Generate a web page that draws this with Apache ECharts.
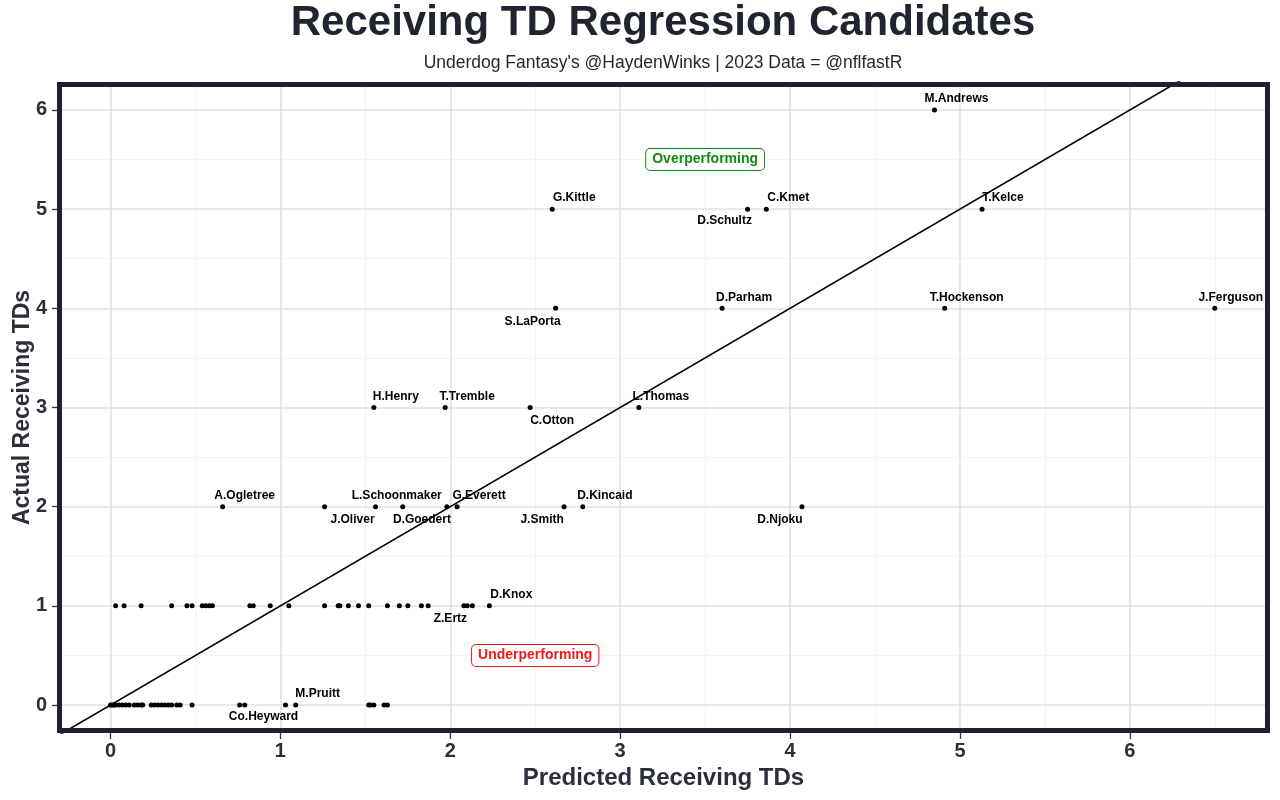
<!DOCTYPE html>
<html>
<head>
<meta charset="utf-8">
<script src="https://cdn.jsdelivr.net/npm/echarts@6/dist/echarts.min.js"></script>
<style>html,body{margin:0;padding:0;background:#fff}#c{width:1280px;height:800px}</style>
</head>
<body>
<div id="c"></div>
<script>
// ---- data ----
const namedPlayers = ['M.Andrews','G.Kittle','D.Schultz','C.Kmet','T.Kelce','S.LaPorta','D.Parham','T.Hockenson','J.Ferguson','H.Henry','T.Tremble','C.Otton','L.Thomas','A.Ogletree','J.Oliver','L.Schoonmaker','D.Goedert','G.Everett','J.Smith','D.Kincaid','D.Njoku','D.Knox','Z.Ertz','M.Pruitt','Co.Heyward'];
const namedPredicted = [4.85,2.60,3.75,3.86,5.13,2.62,3.60,4.91,6.50,1.55,1.97,2.47,3.11,0.66,1.56,1.72,1.98,2.04,2.67,2.78,4.07,2.23,2.13,1.09,1.03];
const namedActual    = [6,5,5,5,5,4,4,4,4,3,3,3,3,2,2,2,2,2,2,2,2,1,1,0,0];

const otherPredictedActual2 = [1.26];
const otherPredictedActual1 = [0.03,0.08,0.18,0.36,0.45,0.48,0.54,0.56,0.58,0.60,0.82,0.84,0.94,1.05,1.26,1.34,1.35,1.40,1.46,1.52,1.63,1.70,1.75,1.83,1.87,2.08,2.10];
const otherPredictedActual0 = [0.00,0.01,0.02,0.03,0.05,0.07,0.09,0.11,0.14,0.16,0.18,0.19,0.24,0.26,0.28,0.30,0.32,0.34,0.36,0.39,0.41,0.48,0.76,0.79,1.52,1.53,1.55,1.61,1.63];

const xTicks = [0,1,2,3,4,5,6];
const yTicks = [0,1,2,3,4,5,6];
const xMinorGrid = [0.5,1.5,2.5,3.5,4.5,5.5,6.5];
const yMinorGrid = [0.5,1.5,2.5,3.5,4.5,5.5];
const xRange = [-0.315, 6.825];
const yRange = [-0.282, 6.282];

const titleText = 'Receiving TD Regression Candidates';
const subtitleText = "Underdog Fantasy's @HaydenWinks | 2023 Data = @nflfastR";

const annotations = [
  {text:'Overperforming', x:3.5, y:5.5, color:'#108a10'},
  {text:'Underperforming', x:2.5, y:0.5, color:'#f01818'}
];

// ---- label placement (styling, pixel offsets from the point) ----
const labelOffsets = {
  'M.Andrews':[22,-11],'G.Kittle':[22,-11],'D.Schultz':[-23,12],'C.Kmet':[22,-11],'T.Kelce':[21,-11],
  'S.LaPorta':[-23,13],'D.Parham':[22,-11],'T.Hockenson':[22,-11],'J.Ferguson':[16,-11],
  'H.Henry':[22,-11],'T.Tremble':[22,-11],'C.Otton':[22,13],'L.Thomas':[22,-11],
  'A.Ogletree':[22,-11],'J.Oliver':[-23,13],'L.Schoonmaker':[-6,-11],'D.Goedert':[-25,13],
  'G.Everett':[22,-11],'J.Smith':[-22,13],'D.Kincaid':[22,-11],'D.Njoku':[-22,13],
  'D.Knox':[22,-11],'Z.Ertz':[-22,13],'M.Pruitt':[22,-11],'Co.Heyward':[-22,12]
};

const FONT = '"Liberation Sans", Arial, Helvetica, sans-serif';
const DARK = '#1f2430';
const SYM = 5;

const namedData = namedPlayers.map((n,i)=>{
  const o = labelOffsets[n] || [0,-12];
  return {
    value:[namedPredicted[i], namedActual[i]],
    name:n,
    label:{show:true, formatter:n, position:[SYM/2 + o[0], SYM/2 + o[1]], align:'center', verticalAlign:'middle',
           color:'#000', fontSize:12, fontWeight:'bold', fontFamily:FONT}
  };
});
const otherData = []
  .concat(otherPredictedActual0.map(x=>[x,0]))
  .concat(otherPredictedActual1.map(x=>[x,1]))
  .concat(otherPredictedActual2.map(x=>[x,2]));

const gridLines = []
  .concat(xMinorGrid.map(v=>({xAxis:v, lineStyle:{color:'#f1f1f1', width:0.8, type:'solid'}})))
  .concat(yMinorGrid.map(v=>({yAxis:v, lineStyle:{color:'#f1f1f1', width:0.8, type:'solid'}})))
  .concat(xTicks.map(v=>({xAxis:v, lineStyle:{color:'#e2e2e2', width:1.6, type:'solid'}})))
  .concat(yTicks.map(v=>({yAxis:v, lineStyle:{color:'#e2e2e2', width:1.6, type:'solid'}})));

const chart = echarts.init(document.getElementById('c'), null, {renderer:'canvas'});
chart.setOption({
  animation:false,
  backgroundColor:'#fff',
  grid:{left:57, right:10, top:82, bottom:67, containLabel:false, outerBoundsMode:'none'},
  xAxis:{
    type:'value', min:xRange[0], max:xRange[1],
    name:'Predicted Receiving TDs', nameLocation:'middle', nameGap:33, nameMoveOverlap:false,
    nameTextStyle:{fontFamily:FONT, fontSize:24, fontWeight:'bold', color:'#2b2f3a'},
    axisLine:{show:false, onZero:false},
    axisTick:{show:true, customValues:xTicks, length:6, lineStyle:{color:'#333', width:1.3}},
    axisLabel:{customValues:xTicks, margin:8, fontFamily:FONT, fontSize:20, fontWeight:'bold', color:'#2b2f3a'},
    splitLine:{show:false}
  },
  yAxis:{
    type:'value', min:yRange[0], max:yRange[1],
    name:'Actual Receiving TDs', nameLocation:'middle', nameGap:23, nameRotate:90, nameMoveOverlap:false,
    nameTextStyle:{fontFamily:FONT, fontSize:23, fontWeight:'bold', color:'#2b2f3a'},
    axisLine:{show:false, onZero:false},
    axisTick:{show:true, customValues:yTicks, length:5, lineStyle:{color:'#333', width:1.3}},
    axisLabel:{customValues:yTicks, margin:10, fontFamily:FONT, fontSize:20, fontWeight:'bold', color:'#2b2f3a'},
    splitLine:{show:false}
  },
  graphic:[
    {type:'rect', z:100, silent:true,
     shape:{x:59.5, y:84.5, width:1208, height:646},
     style:{fill:'none', stroke:'#1e222c', lineWidth:5}},
    {type:'text', z:100, silent:true, x:663, y:23,
     style:{text:titleText, font:'bold 42px ' + FONT, fill:DARK, align:'center', verticalAlign:'middle'}},
    {type:'text', z:100, silent:true, x:663, y:63,
     style:{text:subtitleText, font:'17.5px ' + FONT, fill:DARK, align:'center', verticalAlign:'middle'}}
  ],
  series:[
    {type:'scatter', data:[], silent:true, z:1,
     markLine:{silent:true, z:1, symbol:'none', label:{show:false}, animation:false, data:gridLines}},
    {type:'line', data:[[xRange[0],xRange[0]],[xRange[1],xRange[1]]], clip:true, showSymbol:false, symbol:'none',
     lineStyle:{color:'#000', width:1.6}, z:3, silent:true},
    {type:'scatter', data:otherData, symbolSize:SYM, itemStyle:{color:'#000', opacity:1}, z:4, silent:true},
    {type:'scatter', data:namedData, symbolSize:SYM, itemStyle:{color:'#000', opacity:1}, z:5, silent:true},
    {type:'scatter', symbolSize:0, z:6, silent:true, itemStyle:{opacity:1},
     data:annotations.map(a=>({value:[a.x,a.y],
       label:{show:true, position:'inside', formatter:a.text, color:a.color, fontFamily:FONT, fontSize:14, fontWeight:'bold',
              backgroundColor:'#fff', borderColor:a.color, borderWidth:1, borderRadius:4, padding:[4,6,3,6]}}))}
  ]
});
</script>
</body>
</html>
